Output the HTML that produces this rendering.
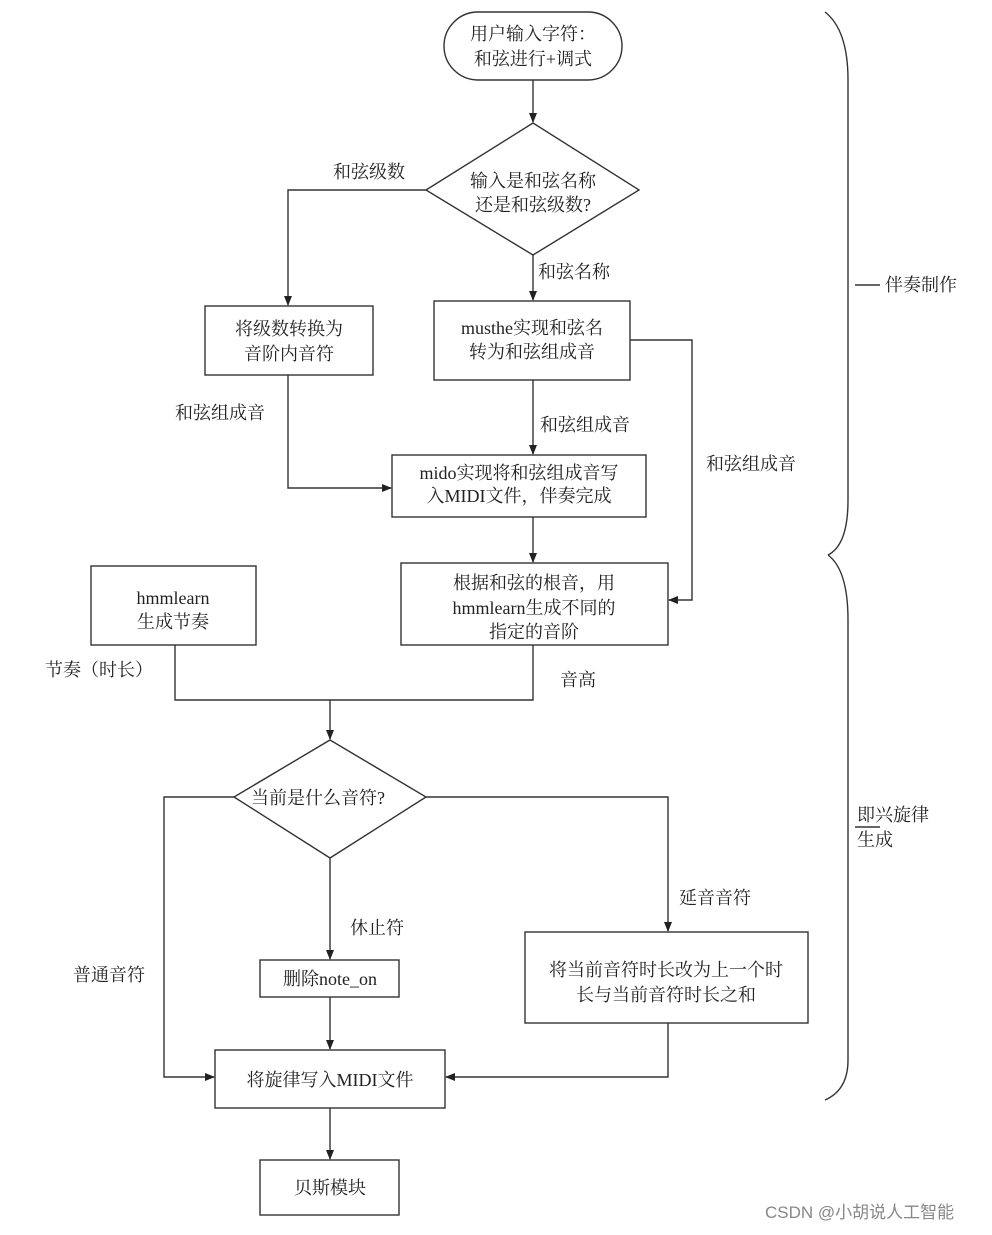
<!DOCTYPE html>
<html><head><meta charset="utf-8"><style>
html,body{margin:0;padding:0;background:#fff;}
svg text{font-family:"Liberation Serif","Noto Serif CJK SC",serif;font-size:18px;fill:#222;}
</style></head><body>
<svg width="992" height="1230" viewBox="0 0 992 1230" xmlns="http://www.w3.org/2000/svg">
<defs><marker id="a" markerWidth="10" markerHeight="10" refX="9" refY="4" orient="auto" markerUnits="userSpaceOnUse"><path d="M0,0 L10,4 L0,8 Z" fill="#222"/></marker></defs>
<g stroke="#333" stroke-width="1.4" fill="none">
<rect x="444" y="12" width="178" height="68" rx="34"/>
<line x1="533" y1="80" x2="533" y2="122" marker-end="url(#a)"/>
<polygon points="533,123 639,190 533,255 426,190"/>
<polyline points="426,190 288,190 288,305" marker-end="url(#a)"/>
<rect x="205" y="306" width="168" height="69"/>
<line x1="533" y1="255" x2="533" y2="300" marker-end="url(#a)"/>
<rect x="434" y="301" width="196" height="79"/>
<polyline points="630,340 692,340 692,600 669,600" marker-end="url(#a)"/>
<polyline points="288,375 288,488 391,488" marker-end="url(#a)"/>
<line x1="533" y1="380" x2="533" y2="454" marker-end="url(#a)"/>
<rect x="392" y="455" width="254" height="62"/>
<line x1="533" y1="517" x2="533" y2="562" marker-end="url(#a)"/>
<rect x="401" y="563" width="267" height="82"/>
<rect x="91" y="566" width="165" height="79"/>
<polyline points="175,645 175,700 533,700 533,645"/>
<line x1="330" y1="700" x2="330" y2="739" marker-end="url(#a)"/>
<polygon points="330,740 426,797 330,858 234,797"/>
<polyline points="234,797 164,797 164,1077 214,1077" marker-end="url(#a)"/>
<polyline points="426,797 668,797 668,931" marker-end="url(#a)"/>
<rect x="525" y="932" width="283" height="91"/>
<polyline points="668,1023 668,1077 446,1077" marker-end="url(#a)"/>
<line x1="330" y1="858" x2="330" y2="959" marker-end="url(#a)"/>
<rect x="260" y="960" width="139" height="37"/>
<line x1="330" y1="997" x2="330" y2="1049" marker-end="url(#a)"/>
<rect x="215" y="1050" width="230" height="58"/>
<line x1="330" y1="1108" x2="330" y2="1159" marker-end="url(#a)"/>
<rect x="260" y="1160" width="139" height="55"/>
<path d="M825,12 Q848,30 848,80 L848,500 Q848,545 828,555"/>
<path d="M828,555 Q848,570 848,620 L848,1060 Q848,1090 825,1100"/>
<line x1="855" y1="285" x2="880" y2="285"/>
<line x1="855" y1="827" x2="880" y2="827"/>
</g>
<g text-anchor="middle">
<text x="533" y="40">用户输入字符：</text>
<text x="533" y="65">和弦进行+调式</text>
<text x="533" y="187">输入是和弦名称</text>
<text x="533" y="211">还是和弦级数?</text>
<text x="289" y="335">将级数转换为</text>
<text x="289" y="360">音阶内音符</text>
<text x="532" y="334">musthe实现和弦名</text>
<text x="532" y="358">转为和弦组成音</text>
<text x="519" y="479">mido实现将和弦组成音写</text>
<text x="519" y="502">入MIDI文件，伴奏完成</text>
<text x="534" y="589">根据和弦的根音，用</text>
<text x="534" y="614">hmmlearn生成不同的</text>
<text x="534" y="638">指定的音阶</text>
<text x="173" y="604">hmmlearn</text>
<text x="173" y="628">生成节奏</text>
<text x="318" y="804">当前是什么音符?</text>
<text x="666" y="976">将当前音符时长改为上一个时</text>
<text x="666" y="1001">长与当前音符时长之和</text>
<text x="330" y="985">删除note_on</text>
<text x="330" y="1086">将旋律写入MIDI文件</text>
<text x="330" y="1194">贝斯模块</text>
</g>
<text x="333" y="178">和弦级数</text>
<text x="538" y="278">和弦名称</text>
<text x="175" y="419">和弦组成音</text>
<text x="540" y="431">和弦组成音</text>
<text x="706" y="470">和弦组成音</text>
<text x="45" y="676">节奏（时长）</text>
<text x="560" y="686">音高</text>
<text x="73" y="981">普通音符</text>
<text x="679" y="904">延音音符</text>
<text x="350" y="934">休止符</text>
<text x="885" y="291">伴奏制作</text>
<text x="857" y="821">即兴旋律</text>
<text x="857" y="846">生成</text>
<text x="765" y="1218" style="font-family:'Liberation Sans','Noto Sans CJK SC',sans-serif;font-size:17px;fill:#888">CSDN @小胡说人工智能</text>
</svg>
</body></html>
